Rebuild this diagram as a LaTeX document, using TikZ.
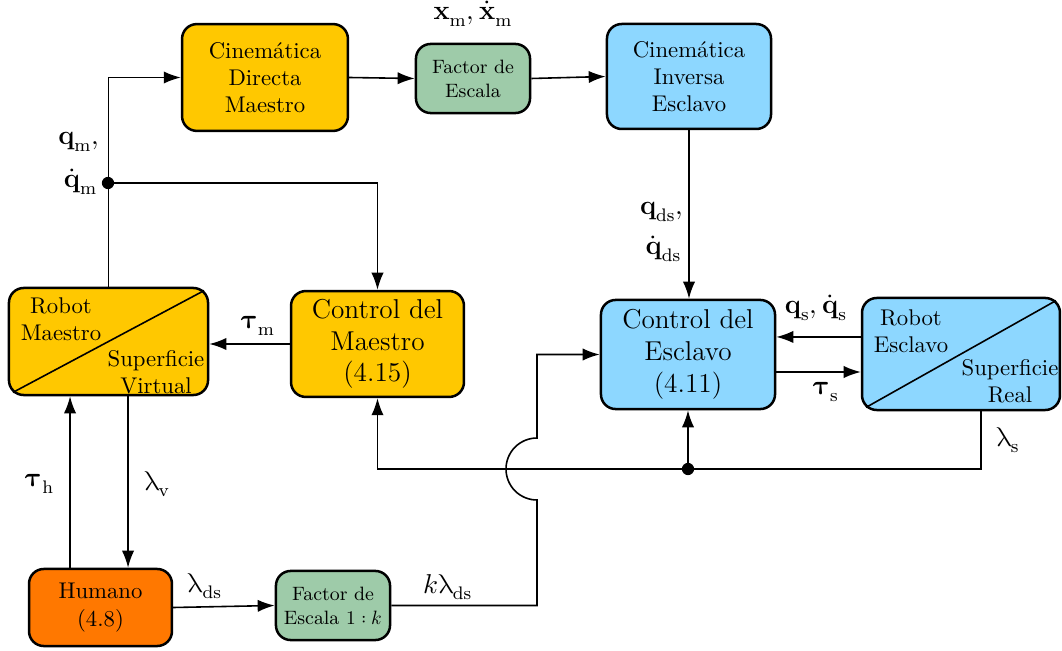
\documentclass[tikz,border=0pt]{standalone}
\usepackage{unicode-math}
\setmathfont{Latin Modern Math}
\usetikzlibrary{arrows.meta,calc}
\definecolor{cyel}{RGB}{255,200,0}
\definecolor{cgrn}{RGB}{158,203,169}
\definecolor{cblu}{RGB}{141,215,255}
\definecolor{corg}{RGB}{255,120,0}
\tikzset{
  blk/.style={draw=black,line width=1.1pt,rounded corners=6.5pt,align=center,inner sep=0pt},
  arr/.style={line width=0.7pt,-{Latex[length=7.5pt,width=5.4pt]}},
  lbl/.style={inner sep=1pt,font=\large},
  dot/.style={circle,fill=black,inner sep=0pt,minimum size=5.4pt},
  smallf/.style={font=\fontsize{8.5}{10.5}\selectfont}
}
\begin{document}
\begin{tikzpicture}[x=0.44pt,y=-0.44pt]
\useasboundingbox (0,0) rectangle (1062,651);
% blocks
\node[blk,fill=cyel,minimum width=73pt,minimum height=47pt] (cdm) at (265,77.5) {Cinemática\\Directa\\Maestro};
\node[blk,fill=cgrn,minimum width=50.2pt,minimum height=30.4pt,smallf] (fe1) at (473,78.5) {Factor de\\Escala};
\node[blk,fill=cblu,minimum width=72.2pt,minimum height=46.2pt] (cie) at (689,76.5) {Cinemática\\Inversa\\Esclavo};
\node[blk,fill=cyel,minimum width=87.6pt,minimum height=47.1pt] (rm) at (108.5,341.5) {};
\node[blk,fill=cyel,minimum width=76.1pt,minimum height=46.6pt,font=\large] (cm) at (377.5,344) {Control del\\Maestro\\(4.15)};
\node[blk,fill=cblu,minimum width=76.6pt,minimum height=48pt,font=\large] (ce) at (688,354.5) {Control del\\Esclavo\\(4.11)};
\node[blk,fill=cblu,minimum width=87.1pt,minimum height=49.3pt] (re) at (961,354) {};
\node[blk,fill=corg,minimum width=62.9pt,minimum height=33.9pt] (hu) at (100.5,607.5) {Humano\\(4.8)};
\node[blk,fill=cgrn,minimum width=50.2pt,minimum height=30.4pt,smallf] (fe2) at (333,605.5) {Factor de\\Escala $1:k$};
% split boxes
\draw[line width=0.7pt] ([shift={(-2.3pt,-1.7pt)}]rm.north east) -- ([shift={(2.3pt,1.7pt)}]rm.south west);
\node[align=center,inner sep=0pt] (rmA) at (61,319) {Robot\\Maestro};
\node[align=center,inner sep=0pt] (rmB) at (156,372) {Superficie\\Virtual};
\draw[line width=0.7pt] ([shift={(-2.3pt,-1.7pt)}]re.north east) -- ([shift={(2.3pt,1.7pt)}]re.south west);
\node[align=center,inner sep=0pt] (reA) at (911,331) {Robot\\Esclavo};
\node[align=center,inner sep=0pt] (reB) at (1010,381) {Superficie\\Real};
% junctions
\coordinate (j1) at (108,183);
\coordinate (j2) at (688,469);
\coordinate (k1) at (537,500);
% connectors
\draw[arr] (rm.north) |- (cdm.west);
\draw[arr] (j1) -| (cm.north);
\draw[arr] (cdm.east) -- (fe1.west);
\draw[arr] (fe1.east) -- (cie.west);
\draw[arr] (cie.south) -- (cie.south |- ce.north);
\draw[arr] (cm.west) -- (cm.west -| rm.east);
\draw[arr] ([yshift=7.5pt]re.west) -- ([yshift=7.5pt]re.west -| ce.east);
\draw[arr] ([yshift=-7.7pt]ce.east) -- ([yshift=-7.7pt]ce.east -| re.west);
\draw[arr] ([xshift=8.8pt]re.south) |- (j2) -| (cm.south);
\draw[arr] (j2) -- (ce.south);
\draw[arr] ([xshift=8.6pt]rm.south) -- ([xshift=8.6pt]rm.south |- hu.north);
\draw[arr] ([xshift=-13.4pt]hu.north) -- ([xshift=-13.4pt]hu.north |- rm.south);
\draw[arr] (hu.east) -- (fe2.west);
\draw[arr] (fe2.east) -| (k1) arc[start angle=90,end angle=270,radius=31] |- (ce.west);
\node[dot] (d1) at (j1) {};
\node[dot] (d2) at (j2) {};
% labels
\node[lbl] (lxm) at (473,14) {$\mathbf{x}_\mathrm{m},\dot{\mathbf{x}}_\mathrm{m}$};
\node[lbl,anchor=east] (lqm) at (102,142) {$\mathbf{q}_\mathrm{m},$};
\node[lbl,anchor=east] (lqdm) at (100,182) {$\dot{\mathbf{q}}_\mathrm{m}$};
\node[lbl,anchor=east] (lqds) at (686,212) {$\mathbf{q}_\mathrm{ds},$};
\node[lbl,anchor=east] (lqdds) at (684,249) {$\dot{\mathbf{q}}_\mathrm{ds}$};
\node[lbl] (ltm) at (258,326) {$\symbfup{\tau}_\mathrm{m}$};
\node[lbl] (lqs) at (816,308) {$\mathbf{q}_\mathrm{s},\dot{\mathbf{q}}_\mathrm{s}$};
\node[lbl] (lts) at (826,392) {$\symbfup{\tau}_\mathrm{s}$};
\node[lbl] (lls) at (1008,440) {$\uplambda_\mathrm{s}$};
\node[lbl] (llv) at (157,484) {$\uplambda_\mathrm{v}$};
\node[lbl] (lth) at (40,484) {$\symbfup{\tau}_\mathrm{h}$};
\node[lbl] (llds) at (205,586) {$\uplambda_\mathrm{ds}$};
\node[lbl] (lklds) at (448,587) {$k\uplambda_\mathrm{ds}$};
\end{tikzpicture}
\end{document}
